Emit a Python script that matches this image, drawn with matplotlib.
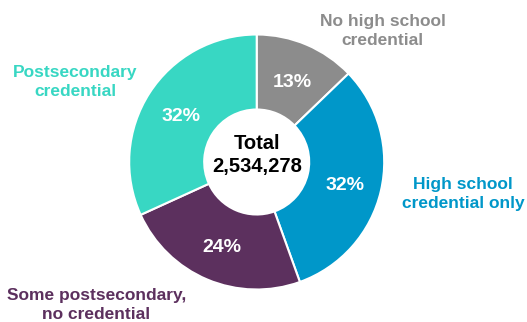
import matplotlib.pyplot as plt

plt.rcParams['font.family'] = ['Liberation Sans', 'DejaVu Sans']

# data
categories = ['No high school\ncredential', 'High school\ncredential only',
              'Some postsecondary,\nno credential', 'Postsecondary\ncredential']
shares = [12.8, 31.7, 23.7, 31.8]
total = 2534278
colors = ['#8C8C8C', '#0097C9', '#5C305E', '#38D7C3']

W, H = 527, 322
fig = plt.figure(figsize=(W / 100, H / 100), dpi=100)
ax = fig.add_axes([0, 0, 1, 1])

# work in pixel-like coordinates, y measured from the top
def py(y):
    return H - y

ax.pie(shares, colors=colors, startangle=90, counterclock=False,
       center=(256.7, py(162)), radius=127.5, frame=True,
       wedgeprops=dict(width=75, edgecolor='white', linewidth=1.5))
ax.set_xlim(0, W)
ax.set_ylim(0, H)
ax.set_aspect('equal')
ax.axis('off')

# percent labels inside the ring
pct_pos = [(292.7, 82), (345, 185), (221.7, 248), (181, 116)]
for (x, y), v in zip(pct_pos, shares):
    ax.text(x, py(y), f'{v:.0f}%', color='white', fontsize=14, fontweight='bold',
            ha='center', va='center')

ax.text(257, py(155), f'Total\n{total:,}', color='black', fontsize=14.5,
        fontweight='bold', ha='center', va='center', linespacing=1.3)

# outside category labels
lab_pos = [(382.5, 31), (463, 194), (96.5, 305), (75.5, 82)]
for (x, y), lab, c in zip(lab_pos, categories, colors):
    ax.text(x, py(y), lab, color=c, fontsize=12.5, fontweight='bold',
            ha='center', va='center', linespacing=1.35)

fig.savefig('out.png', dpi=100)
